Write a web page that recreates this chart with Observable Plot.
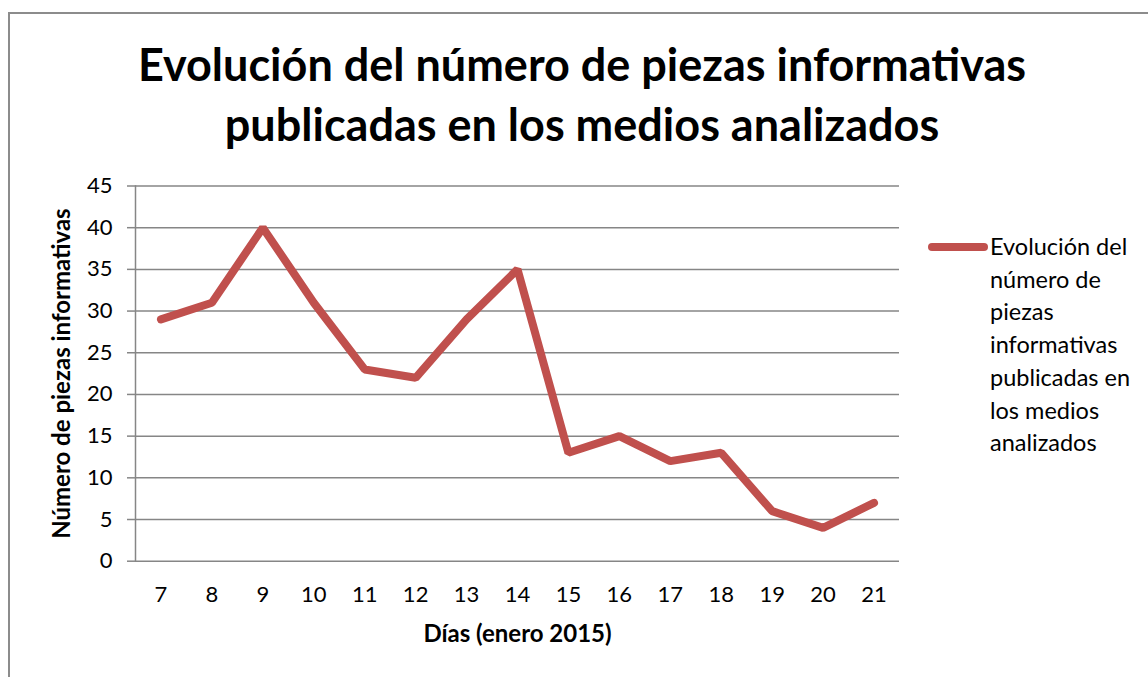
<!DOCTYPE html>
<html><head><meta charset="utf-8">
<script src="https://cdn.jsdelivr.net/npm/d3@7"></script>
<script src="https://cdn.jsdelivr.net/npm/@observablehq/plot@0.6"></script>
<style>
body{margin:0;background:#fff;font-family:Lato,"Open Sans",sans-serif;}
#wrap{position:relative;width:1148px;height:677px;overflow:hidden;}
#border{position:absolute;left:8px;top:12px;width:1200px;height:700px;border-left:2px solid #8c8c8c;border-top:2px solid #8c8c8c;box-sizing:border-box;}
#title{position:absolute;left:0;width:1164px;top:34px;text-align:center;font-weight:bold;font-size:45px;line-height:60px;color:#000;}
#legend{position:absolute;left:928px;top:230px;}
#legend .sw{position:absolute;left:0;top:13px;width:60px;height:8px;border-radius:4px;background:#C0504D;}
#legend .tx{position:absolute;left:62px;top:0;font-size:23.5px;line-height:32.7px;width:220px;white-space:nowrap;color:#000;}
#chart{position:absolute;left:0;top:0;}
</style></head>
<body>
<div id="wrap">
<div id="border"></div>
<div id="chart"></div>
<div id="title">Evolución del número de piezas informativas<br>publicadas en los medios analizados</div>
<div id="legend"><div class="sw"></div><div class="tx">Evolución del<br>número de<br>piezas<br>informativas<br>publicadas en<br>los medios<br>analizados</div></div>
</div>
<script>
const days = ["7","8","9","10","11","12","13","14","15","16","17","18","19","20","21"];
const piezas = [29,31,40,31,23,22,29,35,13,15,12,13,6,4,7];
const yTicks = [0,5,10,15,20,25,30,35,40,45];
const xTitle = "Días (enero 2015)";
const yTitle = "Número de piezas informativas";
const data = days.map((d,i)=>({dia:d, n:piezas[i]}));

const chart = Plot.plot({
  width:1148, height:677,
  marginLeft:135, marginRight:249, marginTop:185.5, marginBottom:116.3,
  style:{fontFamily:"Lato, 'Open Sans', sans-serif", fontSize:"22px", color:"#000", background:"transparent", overflow:"visible"},
  x:{type:"band", domain:days, padding:0, round:false},
  y:{domain:[0,45]},
  marks:[
    Plot.gridY(yTicks,{stroke:"#868686", strokeOpacity:1, strokeWidth:1.5}),
    Plot.frame({anchor:"left", stroke:"#868686", strokeWidth:1.5}),
    Plot.axisY(yTicks,{tickSize:8, tickPadding:15, stroke:"#868686", strokeWidth:1.5, fontSize:22, fill:"#000", label:null}),
    Plot.axisX({tickSize:0, tickPadding:25, fontSize:22, fill:"#000", label:null}),
    Plot.text([yTitle],{frameAnchor:"left", textAnchor:"middle", rotate:-90, dx:-73, fontSize:24, fontWeight:"bold", fill:"#000"}),
    Plot.text([xTitle],{frameAnchor:"bottom", dy:81, fontSize:24, fontWeight:"bold", fill:"#000"}),
    Plot.line(data,{x:"dia", y:"n", stroke:"#C0504D", strokeWidth:8, strokeLinejoin:"miter", strokeLinecap:"round"})
  ]
});
document.getElementById("chart").appendChild(chart);
</script>
</body></html>
